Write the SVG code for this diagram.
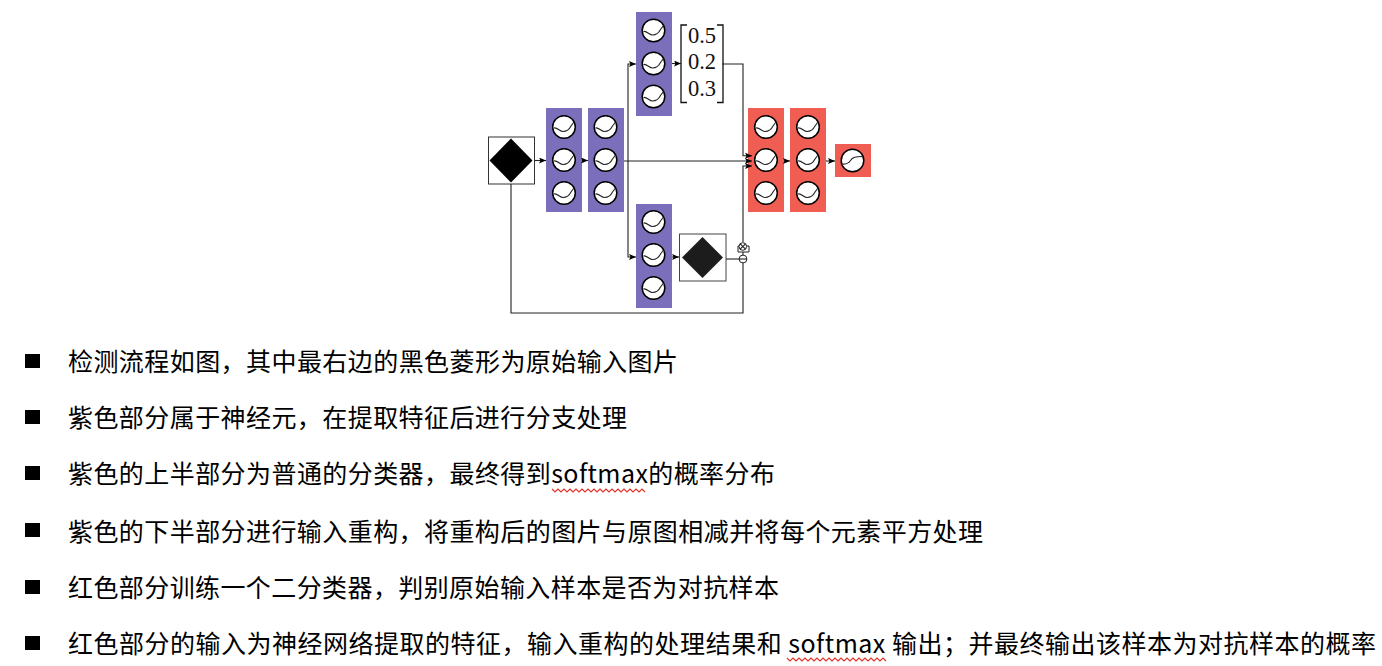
<svg xmlns="http://www.w3.org/2000/svg" width="1382" height="666" viewBox="0 0 1382 666">
<style>
.p{fill:#7b6fbb}.r{fill:#f05d52}
.n{fill:#fff;stroke:#000;stroke-width:1.5}
.c{fill:none;stroke:#222;stroke-width:1.1}
.l{fill:none;stroke:#222;stroke-width:1.1}
.a{marker-end:url(#ah)}
.t{font-family:"Noto Sans CJK SC","Noto Sans",sans-serif;font-size:25px;font-weight:400;fill:#000}
.m{font-family:"Liberation Serif","DejaVu Serif",serif;font-size:22.5px;fill:#111;text-anchor:middle}
.b{fill:#000}
.sq{fill:none;stroke:#e3342a;stroke-width:1.2}
</style>
<defs>
<marker id="ah" markerUnits="userSpaceOnUse" markerWidth="8" markerHeight="6" refX="7" refY="3" orient="auto"><path d="M0,0 L7,3 L0,6 L1.5,3 Z" fill="#000"/></marker>
<g id="ne"><circle class="n" r="11.3"/><path class="c" d="M-10,1 C-7,0 -4,4.500 -1,4.500 C3,4.500 5,3 7,-1 L10,-5"/></g>
<g id="ns"><circle class="n" r="11.3"/><path class="c" d="M-10,3.500 C-6,4 -4,3 -2,0 C0,-3.500 3,-4 10,-4"/></g>
</defs>

<g id="input"><rect x="488.500" y="137" width="46" height="47" fill="#fff" stroke="#333" stroke-width="1"/><path class="b" d="M511,138.500L532.500,160.500L511,182.500L489.500,160.500Z"/></g>

<g id="purple1"><rect class="p" x="546" y="108" width="36" height="104"/><use href="#ne" x="564" y="127"/><use href="#ne" x="564" y="160"/><use href="#ne" x="564" y="193"/></g>
<g id="purple2"><rect class="p" x="588" y="108" width="36" height="104"/><use href="#ne" x="605.500" y="127"/><use href="#ne" x="605.500" y="160"/><use href="#ne" x="605.500" y="193"/></g>
<g id="purple-top"><rect class="p" x="636" y="12" width="36" height="104"/><use href="#ne" x="653.500" y="30.500"/><use href="#ne" x="653.500" y="63.500"/><use href="#ne" x="653.500" y="96.500"/></g>
<g id="purple-bottom"><rect class="p" x="636" y="204" width="36" height="104"/><use href="#ne" x="653.500" y="222"/><use href="#ne" x="653.500" y="255"/><use href="#ne" x="653.500" y="288"/></g>

<g id="probabilities">
<path fill="none" stroke="#111" stroke-width="1.3" d="M687,25H681V102.500H687M717,25H723V102.500H717"/>
<text class="m" x="702" y="43">0.5</text><text class="m" x="702" y="69">0.2</text><text class="m" x="702" y="96">0.3</text>
</g>

<g id="reconstruction"><rect x="679.500" y="234" width="46.500" height="47" fill="#fff" stroke="#444" stroke-width="1"/><path fill="#1c1c1c" d="M702.500,237L723,257.500L702.500,278L682,257.500Z"/></g>

<g id="red1"><rect class="r" x="748" y="108" width="36" height="104"/><use href="#ne" x="766" y="127"/><use href="#ne" x="766" y="160"/><use href="#ne" x="766" y="193"/></g>
<g id="red2"><rect class="r" x="790" y="108" width="36" height="104"/><use href="#ne" x="808" y="127"/><use href="#ne" x="808" y="160"/><use href="#ne" x="808" y="193"/></g>
<g id="red3"><rect class="r" x="835" y="144" width="36" height="33"/><use href="#ns" x="852.500" y="160.500"/></g>

<g id="connectors">
<path class="l a" d="M534,160.500H546"/>
<path class="l a" d="M582,160.500H588"/>
<path class="l a" d="M624,161H752"/>
<path class="l a" d="M628,161V64H636"/>
<path class="l a" d="M628,161V257H636"/>
<path class="l a" d="M672,63.500H681"/>
<path class="l a" d="M672,257H679"/>
<path class="l a" d="M722,64H743V155.700H752"/>
<path class="l a" d="M743,242V166H752"/>
<path class="l" d="M726,259H739"/>
<path class="l" d="M511,184V313H743V263"/>
<path class="l" d="M743,251V255"/>
<path class="l a" d="M784,161H790"/>
<path class="l a" d="M826,161H835"/>
</g>

<g id="ops">
<path d="M738,246H749V252H738Z" fill="#fff" stroke="#222" stroke-width="1"/>
<circle cx="742.800" cy="246.500" r="3.800" fill="#fff" stroke="#222"/><path class="l" d="M740.100,243.800L745.500,249.200M745.500,243.800L740.100,249.200"/>
<circle cx="743" cy="259" r="3.900" fill="#fff" stroke="#222"/><path class="l" d="M739,259H747"/>
</g>

<g id="bullets">
<rect class="b" x="25" y="354" width="15" height="14"/>
<rect class="b" x="25" y="410" width="15" height="14"/>
<rect class="b" x="25" y="466" width="15" height="14"/>
<rect class="b" x="25" y="523" width="15" height="14"/>
<rect class="b" x="25" y="580" width="15" height="14"/>
<rect class="b" x="25" y="636" width="15" height="14"/>
</g>
<g id="text">
<text class="t" x="68" y="371" textLength="610">检测流程如图，其中最右边的黑色菱形为原始输入图片</text>
<text class="t" x="68" y="427" textLength="559">紫色部分属于神经元，在提取特征后进行分支处理</text>
<text class="t" x="68" y="483" textLength="707">紫色的上半部分为普通的分类器，最终得到softmax的概率分布</text>
<text class="t" x="68" y="541" textLength="915">紫色的下半部分进行输入重构，将重构后的图片与原图相减并将每个元素平方处理</text>
<text class="t" x="68" y="597" textLength="711">红色部分训练一个二分类器，判别原始输入样本是否为对抗样本</text>
<text class="t" x="68" y="653" textLength="1308">红色部分的输入为神经网络提取的特征，输入重构的处理结果和 softmax 输出；并最终输出该样本为对抗样本的概率</text>
</g>
<g id="squiggles">
<path class="sq" d="M552,489l3,3 3,-3 3,3 3,-3 3,3 3,-3 3,3 3,-3 3,3 3,-3 3,3 3,-3 3,3 3,-3 3,3 3,-3 3,3 3,-3 3,3 3,-3 3,3 3,-3 3,3 3,-3 3,3 3,-3 3,3 3,-3 3,3 3,-3 3,3"/>
<path class="sq" d="M787,658l3,3 3,-3 3,3 3,-3 3,3 3,-3 3,3 3,-3 3,3 3,-3 3,3 3,-3 3,3 3,-3 3,3 3,-3 3,3 3,-3 3,3 3,-3 3,3 3,-3 3,3 3,-3 3,3 3,-3 3,3 3,-3 3,3 3,-3 3,3 3,-3 3,3"/>
</g>
</svg>
